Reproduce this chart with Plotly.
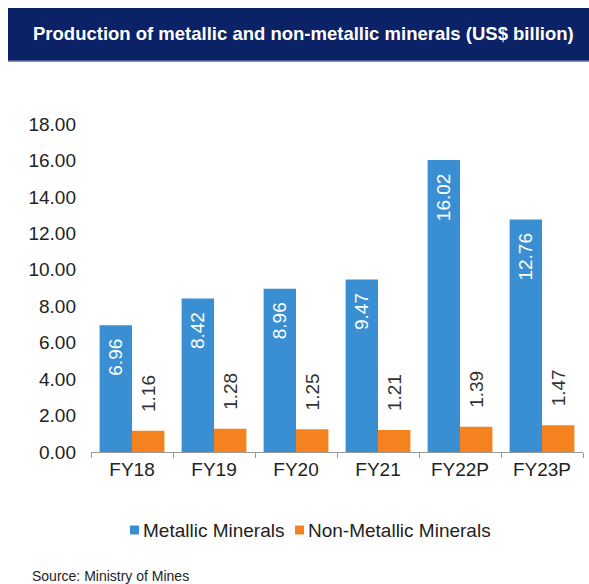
import plotly.graph_objects as go

categories = ["FY18", "FY19", "FY20", "FY21", "FY22P", "FY23P"]
metallic = [6.96, 8.42, 8.96, 9.47, 16.02, 12.76]
non_metallic = [1.16, 1.28, 1.25, 1.21, 1.39, 1.47]
y_ticks = [0, 2, 4, 6, 8, 10, 12, 14, 16, 18]
series_names = ["Metallic Minerals", "Non-Metallic Minerals"]
series_colors = ["#3a8fd3", "#f4821f"]

W, H = 589, 584
L, R, T, B = 91, 6, 124, 132
pw, ph = W - L - R, H - T - B

def px_x(x):
    return (x - L) / pw

def px_y(y):
    return (H - B - y) / ph

font = "Liberation Sans, Arial, sans-serif"
NB = "\u00a0"

fig = go.Figure()
fig.add_trace(go.Bar(
    x=categories, y=metallic, name=series_names[0],
    marker=dict(color=series_colors[0], line=dict(width=0)),
    text=[f"{v:.2f}" + NB * 2 for v in metallic], textposition="inside",
    insidetextanchor="end", textangle=-90, constraintext="none",
    insidetextfont=dict(color="white", size=19, family=font),
    cliponaxis=False, showlegend=False,
))
fig.add_trace(go.Bar(
    x=categories, y=non_metallic, name=series_names[1],
    marker=dict(color=series_colors[1], line=dict(width=0)),
    text=[NB * 3 + f"{v:.2f}" for v in non_metallic], textposition="outside",
    textangle=-90, constraintext="none",
    outsidetextfont=dict(color="#333333", size=19, family=font),
    cliponaxis=False, showlegend=False,
))

fig.update_layout(
    width=W, height=H,
    margin=dict(l=L, r=R, t=T, b=B),
    paper_bgcolor="white", plot_bgcolor="white",
    barmode="group", bargap=0.21, bargroupgap=0,
    font=dict(family=font, size=19, color="#222222"),
    showlegend=False,
    xaxis=dict(showline=True, linecolor="#999999", linewidth=1,
               ticks="outside", tickson="boundaries", ticklen=5, tickcolor="#999999",
               tickfont=dict(size=19, color="#222222"), showgrid=False),
    yaxis=dict(range=[0, 18], tickvals=y_ticks, ticktext=[f"{v:.2f}" for v in y_ticks],
               showgrid=False, showline=False, zeroline=False,
               tickfont=dict(size=19, color="#222222"), ticklabelstandoff=14),
    uniformtext=dict(mode=False),
)

# Manual legend (compact squares next to text)
leg_y = 530
for name, color, sq_x, tx in zip(series_names, series_colors, [130, 295], [141, 306]):
    fig.add_shape(type="rect", xref="paper", yref="paper",
                  x0=px_x(sq_x), x1=px_x(sq_x + 9), y0=px_y(leg_y + 4.5), y1=px_y(leg_y - 4.5),
                  fillcolor=color, line=dict(width=0))
    fig.add_annotation(xref="paper", yref="paper", x=px_x(tx), y=px_y(leg_y),
                       text=name, showarrow=False, xanchor="left", yanchor="middle",
                       font=dict(color="#222222", size=19, family=font))

# Title banner
fig.add_shape(type="rect", xref="paper", yref="paper",
              x0=px_x(8), x1=px_x(589), y0=px_y(61), y1=px_y(8),
              fillcolor="#0c2266", line=dict(width=0), layer="below")
fig.add_shape(type="line", xref="paper", yref="paper",
              x0=px_x(8), x1=px_x(589), y0=px_y(61), y1=px_y(61),
              line=dict(color="#5a6fa8", width=1.5))
fig.add_annotation(xref="paper", yref="paper", x=px_x(303), y=px_y(33),
                   text="<b>Production of metallic and non-metallic minerals (US$ billion)</b>",
                   showarrow=False, xanchor="center", yanchor="middle",
                   font=dict(color="white", size=18.5, family=font))
fig.add_annotation(xref="paper", yref="paper", x=px_x(30), y=px_y(576),
                   text="Source: Ministry of Mines", showarrow=False,
                   xanchor="left", yanchor="middle",
                   font=dict(color="#222222", size=14, family=font))

fig.write_html("out.html")
